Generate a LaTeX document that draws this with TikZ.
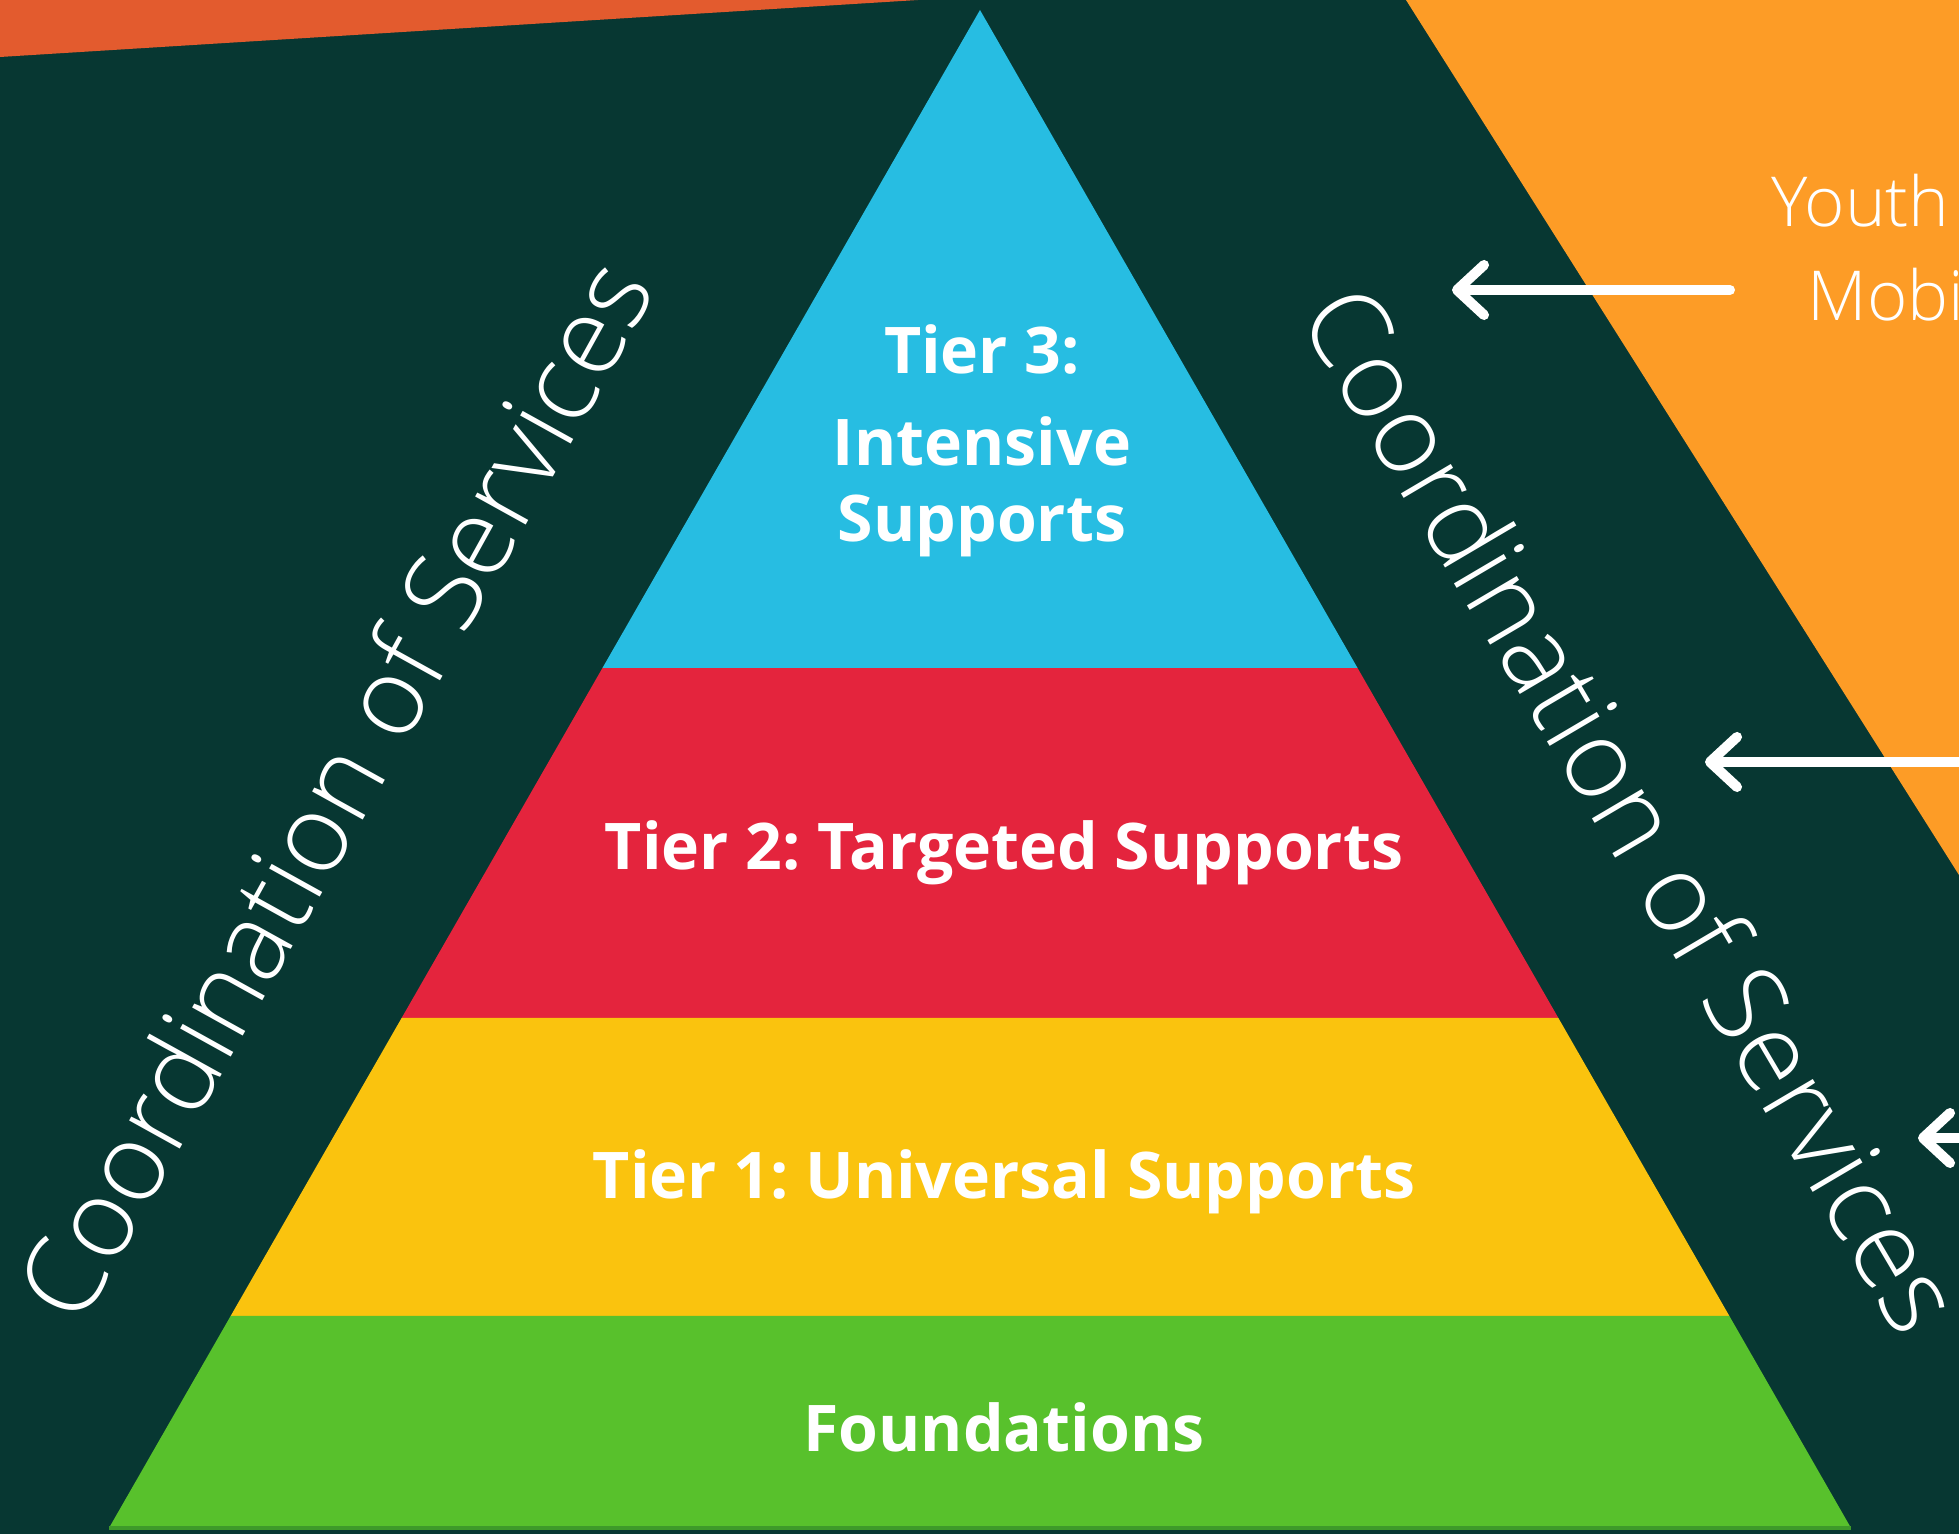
\documentclass[tikz,border=0pt]{standalone}
\usepackage{fontspec}
\setmainfont{Open Sans}
\IfFontExistsTF{Open Sans Light}{\newfontfamily\thinfont{Open Sans Light}}{\newfontfamily\thinfont{Open Sans}}
\usetikzlibrary{arrows.meta,calc}
\definecolor{bgteal}{HTML}{073732}
\definecolor{rust}{HTML}{E35B2E}
\definecolor{amber}{HTML}{FD9C26}
\definecolor{skyblue}{HTML}{27BDE2}
\definecolor{tierred}{HTML}{E4243D}
\definecolor{tieryellow}{HTML}{FAC30E}
\definecolor{grass}{HTML}{58C12C}
\definecolor{darkgrass}{HTML}{3E9A2A}
\frenchspacing

\begin{document}
\begin{tikzpicture}[x=0.01cm,y=-0.01cm,
    tierlabel/.style={text=white,font=\fontsize{18.3}{21.6}\selectfont\bfseries,align=center},
    coordlabel/.style={text=white,font=\fontsize{31}{31}\selectfont\thinfont,anchor=base},
    sidelabel/.style={text=white,font=\fontsize{19.6}{24}\selectfont\thinfont,anchor=base west,inner sep=0pt},
    pointer/.style={draw=white,line width=2.85pt,line cap=round,-{Straight Barb[length=0.27cm,width=0.5cm,round]}}]
    \clip (0,0) rectangle (1959,1534);
    \fill[bgteal] (0,0) rectangle (1959,1534);
    \fill[rust] (0,0) -- (918,0) -- (0,57) -- cycle;
    \fill[amber] (1406,0) -- (1959,0) -- (1959,875) -- cycle;

    \coordinate (apex) at (980,10);
    \coordinate (baseL) at (109,1528);
    \coordinate (baseR) at (1851,1528);
    \coordinate (l3) at ($(apex)!0.4335!(baseL)$);
    \coordinate (r3) at ($(apex)!0.4335!(baseR)$);
    \coordinate (l2) at ($(apex)!0.664!(baseL)$);
    \coordinate (r2) at ($(apex)!0.664!(baseR)$);
    \coordinate (l1) at ($(apex)!0.8603!(baseL)$);
    \coordinate (r1) at ($(apex)!0.8603!(baseR)$);

    \fill[skyblue] (apex) -- (l3) -- (r3) -- cycle;
    \fill[tierred] (l3) -- (l2) -- (r2) -- (r3) -- cycle;
    \fill[tieryellow] (l2) -- (l1) -- (r1) -- (r2) -- cycle;
    \fill[grass] (l1) -- (baseL) -- (baseR) -- (r1) -- cycle;
    \draw[darkgrass,line width=0.9pt] (baseL) -- (baseR);

    \node[tierlabel] (tierthree) at (982,441) {Tier 3:\\[4.6pt]Intensive\\Supports};
    \node[tierlabel,anchor=base] (tiertwo) at (1004,870) {Tier 2: Targeted Supports};
    \node[tierlabel,anchor=base] (tierone) at (1004,1199) {Tier 1: Universal Supports};
    \node[tierlabel,anchor=base] (found) at (1004,1452) {Foundations};

    \node[coordlabel,rotate=61] (coordleft) at (369,809) {Coordination of Services};
    \node[coordlabel,rotate=-59.5] (coordright) at (1599,829) {Coordination of Services};

    \node[sidelabel] (youth) at (1771,227) {Youth};
    \node[sidelabel] (mobi) at (1807,321) {Mobi};

    \coordinate (tailA) at (1730,290);
    \coordinate (tipA) at (1452,290);
    \coordinate (tailB) at (1990,762);
    \coordinate (tipB) at (1705,762);
    \coordinate (tailC) at (1990,1138);
    \coordinate (tipC) at (1918,1138);
    \draw[pointer] (tailA) -- (tipA);
    \draw[pointer] (tailB) -- (tipB);
    \draw[pointer] (tailC) -- (tipC);
\end{tikzpicture}
\end{document}
